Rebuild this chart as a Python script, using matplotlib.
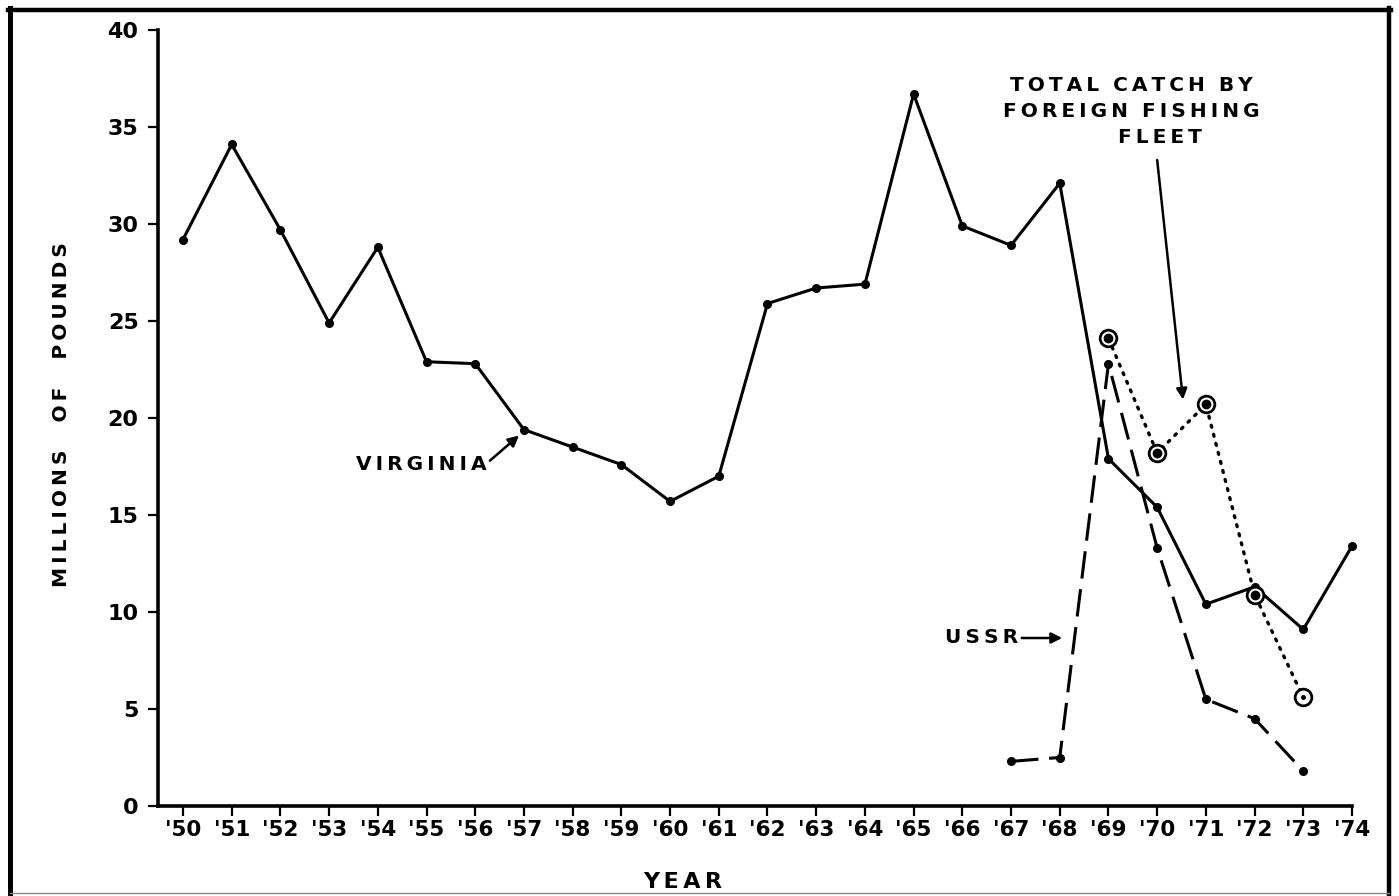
import matplotlib
matplotlib.use("Agg")
import matplotlib.pyplot as plt
from matplotlib.lines import Line2D

# ---- data ----
years = list(range(1950, 1975))
virginia = [29.2, 34.1, 29.7, 24.9, 28.8, 22.9, 22.8, 19.4, 18.5, 17.6, 15.7, 17.0,
            25.9, 26.7, 26.9, 36.7, 29.9, 28.9, 32.1, 17.9, 15.4, 10.4, 11.3, 9.1, 13.4]
ussr_years = [1967, 1968, 1969, 1970, 1971, 1972, 1973]
ussr = [2.3, 2.5, 22.8, 13.3, 5.5, 4.5, 1.8]
total_years = [1969, 1970, 1971, 1972, 1973]
total = [24.1, 18.2, 20.7, 10.9, 5.6]
x_tick_labels = ["'50", "'51", "'52", "'53", "'54", "'55", "'56", "'57", "'58", "'59",
                 "'60", "'61", "'62", "'63", "'64", "'65", "'66", "'67", "'68", "'69",
                 "'70", "'71", "'72", "'73", "'74"]
y_ticks = [0, 5, 10, 15, 20, 25, 30, 35, 40]

W, H = 1399, 896
plt.rcParams['font.family'] = ['DejaVu Sans']
plt.rcParams['font.weight'] = 'bold'

fig = plt.figure(figsize=(W / 100, H / 100), dpi=100)
ax = fig.add_axes([158 / W, 90 / H, 1194 / W, 776 / H])

ax.plot(years, virginia, color='black', lw=2.2, marker='o', ms=5.5,
        clip_on=False, zorder=3)
ax.plot(ussr_years, ussr, color='black', lw=2.2, dashes=[9, 3.5], marker='o', ms=5.5,
        clip_on=False, zorder=3)
ax.plot(total_years, total, color='black', lw=2.4, linestyle=(0, (0.6, 2.2)),
        dash_capstyle='round', marker='o', ms=12, mfc='white', mec='black', mew=2,
        clip_on=False, zorder=4)
ax.plot(total_years[:-1], total[:-1], linestyle='none', marker='o', ms=6,
        color='black', clip_on=False, zorder=5)
ax.plot(total_years[-1:], total[-1:], linestyle='none', marker='o', ms=2.5,
        color='black', clip_on=False, zorder=5)

ax.set_xlim(1949.487, 1974.0)
ax.set_ylim(0, 40)
ax.set_xticks(years)
ax.set_xticklabels(x_tick_labels, fontsize=15.5, fontweight='bold')
ax.set_yticks(y_ticks)
ax.set_yticklabels([str(v) for v in y_ticks], fontsize=16, fontweight='bold')
ax.tick_params(axis='both', direction='out', length=7, width=1.6, color='black')
ax.tick_params(axis='x', pad=3)
ax.tick_params(axis='y', pad=7)
for s in ['top', 'right']:
    ax.spines[s].set_visible(False)
for s in ['left', 'bottom']:
    ax.spines[s].set_linewidth(2.6)

ts = '\u2009'
def spaced(s):
    return ts.join(list(s))

# annotations
ax.text(1954.9, 17.6, spaced('VIRGINIA'), fontsize=14.5, fontweight='bold',
        ha='center', va='center')
ax.annotate('', xy=(1956.9, 19.1), xytext=(1956.3, 17.8),
            arrowprops=dict(arrowstyle='-|>', color='black', lw=1.8,
                            mutation_scale=16, shrinkA=0, shrinkB=0))
ax.text(1966.4, 8.66, spaced('USSR'), fontsize=14.5, fontweight='bold',
        ha='center', va='center')
ax.annotate('', xy=(1968.05, 8.66), xytext=(1967.22, 8.66),
            arrowprops=dict(arrowstyle='-|>', color='black', lw=1.8,
                            mutation_scale=16, shrinkA=0, shrinkB=0))
ax.text(1969.46, 37.16, spaced('TOTAL') + '  ' + spaced('CATCH') + '  ' + spaced('BY'),
        fontsize=14.5, fontweight='bold', ha='center', va='center')
ax.text(1969.46, 35.82, spaced('FOREIGN') + '  ' + spaced('FISHING'),
        fontsize=14.5, fontweight='bold', ha='center', va='center')
ax.text(1970.06, 34.48, spaced('FLEET'), fontsize=14.5, fontweight='bold',
        ha='center', va='center')
ax.annotate('', xy=(1970.53, 20.95), xytext=(1970.0, 33.3),
            arrowprops=dict(arrowstyle='-|>', color='black', lw=1.8,
                            mutation_scale=16, shrinkA=0, shrinkB=0))

# axis titles
fig.text(62 / W, 1 - 415 / H, spaced('MILLIONS') + '    ' + spaced('OF') + '    ' + spaced('POUNDS'),
         rotation=90, fontsize=14.5, fontweight='bold', ha='center', va='center')
fig.text(683 / W, 1 - 882 / H, ts.join(list('YEAR')), fontsize=16, fontweight='bold',
         ha='center', va='center')

# frame
fig.add_artist(Line2D([10 / W, 10 / W], [1 - 8 / H, 1 - 894 / H], color='black', lw=3.6))
fig.add_artist(Line2D([8 / W, 1391 / W], [1 - 10 / H, 1 - 10 / H], color='black', lw=3.2))
fig.add_artist(Line2D([1389 / W, 1389 / W], [1 - 8 / H, 1 - 894 / H], color='black', lw=3.2))
fig.add_artist(Line2D([10 / W, 1389 / W], [1 - 893 / H, 1 - 893 / H], color='#888888', lw=1.0))

fig.savefig('out.png', dpi=100)
